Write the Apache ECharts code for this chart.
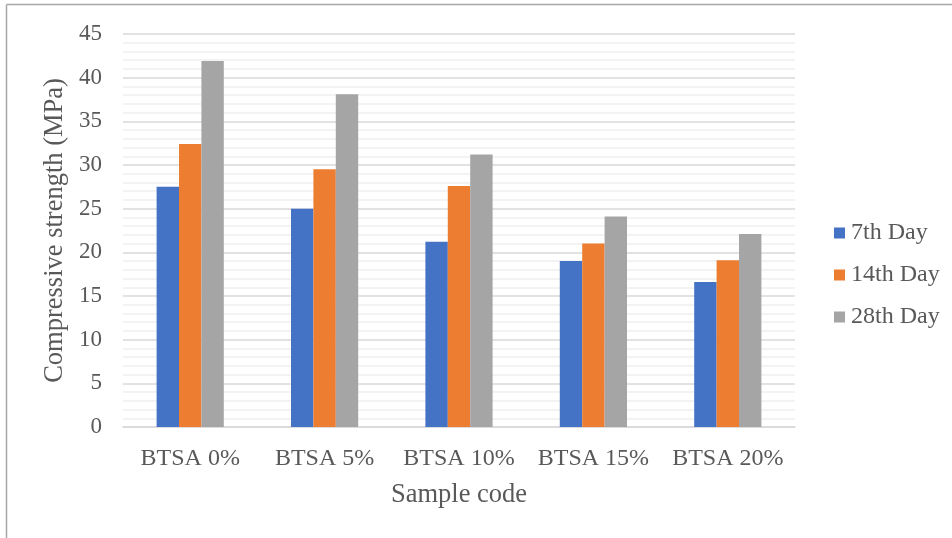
<!DOCTYPE html>
<html>
<head>
<meta charset="utf-8">
<script src="https://cdn.jsdelivr.net/npm/echarts@6/dist/echarts.min.js"></script>
<style>
  html, body { margin: 0; padding: 0; background: #fff; }
  #chart { width: 952px; height: 538px; }
</style>
</head>
<body>
<div id="chart"></div>
<script>
// Compressive strength by sample code and curing age
const categories = ['BTSA 0%', 'BTSA 5%', 'BTSA 10%', 'BTSA 15%', 'BTSA 20%'];
const seriesNames = ['7th Day', '14th Day', '28th Day'];
const day7 = [27.5, 25.0, 21.2, 19.0, 16.6];
const day14 = [32.4, 29.5, 27.6, 21.0, 19.1];
const day28 = [41.9, 38.1, 31.2, 24.1, 22.1];
const colors = ['#4472c4', '#ed7d31', '#a5a5a5'];

const font = 'Liberation Serif, Times New Roman, serif';
const textColor = '#595959';

const chart = echarts.init(document.getElementById('chart'), null, { renderer: 'canvas' });

const values = [day7, day14, day28];

chart.setOption({
  animation: false,
  backgroundColor: '#ffffff',
  color: colors,
  graphic: [
    { type: 'line', shape: { x1: 6.5, y1: 4.5, x2: 952, y2: 4.5 }, style: { stroke: '#a6a6a6', lineWidth: 1.5 } },
    { type: 'line', shape: { x1: 6.5, y1: 4.5, x2: 6.5, y2: 538 }, style: { stroke: '#a6a6a6', lineWidth: 1.5 } }
  ],
  grid: { left: 123, right: 157, top: 34, bottom: 111, containLabel: false },
  legend: {
    orient: 'vertical',
    left: 829,
    top: 216,
    itemWidth: 11,
    itemHeight: 11,
    itemGap: 18,
    icon: 'rect',
    textStyle: { fontFamily: font, fontSize: 24, color: textColor, padding: [0, 0, 0, 1] },
    data: seriesNames
  },
  xAxis: {
    type: 'category',
    data: categories,
    name: 'Sample code',
    nameLocation: 'middle',
    nameGap: 55,
    nameTextStyle: { fontFamily: font, fontSize: 26.5, color: textColor },
    axisLine: { show: true, lineStyle: { color: '#d9d9d9', width: 1.5 } },
    axisTick: { show: false },
    axisLabel: { fontFamily: font, fontSize: 24, color: textColor, margin: 20, interval: 0, hideOverlap: false }
  },
  yAxis: {
    type: 'value',
    min: 0,
    max: 45,
    interval: 5,
    name: 'Compressive strength (MPa)',
    nameLocation: 'middle',
    nameGap: 52,
    nameTextStyle: { fontFamily: font, fontSize: 26.5, color: textColor },
    axisLine: { show: false },
    axisTick: { show: false },
    axisLabel: { fontFamily: font, fontSize: 23, color: textColor, margin: 21 },
    splitLine: { show: true, lineStyle: { color: '#d9d9d9', width: 1.5 } },
    minorTick: { show: false, splitNumber: 5 },
    minorSplitLine: { show: true, lineStyle: { color: '#f0f0f0', width: 1.5 } }
  },
  series: seriesNames.map((name, i) => ({
    name: name,
    type: 'bar',
    data: values[i],
    barGap: '0%',
    barCategoryGap: '50%',
    itemStyle: { color: colors[i] }
  }))
});
</script>
</body>
</html>
